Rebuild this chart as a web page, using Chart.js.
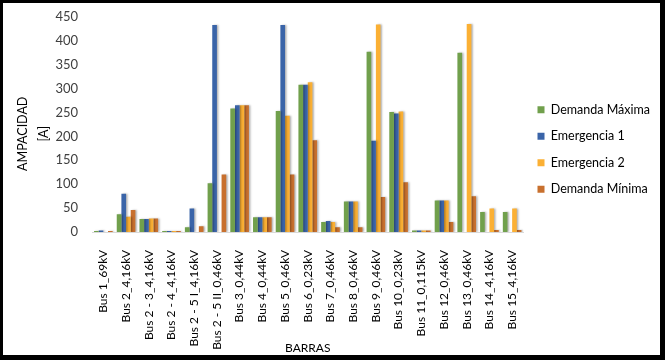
<!DOCTYPE html>
<html>
<head>
<script src="https://cdn.jsdelivr.net/npm/chart.js"></script>
<style>
  body { margin: 0; background: #fff; }
  #frame {
    position: absolute; left: 0; top: 0;
    width: 665px; height: 360px; box-sizing: border-box;
    border-style: solid; border-color: #000; border-width: 3px 5px 5px 3px;
    background: #fff;
  }
  canvas { display: block; }
</style>
<title>Ampacidad por barra</title>
</head>
<body>
<div id="frame"><canvas id="myChart" width="657" height="352"></canvas></div>

<script>
const barras = [
  'Bus 1_69kV', 'Bus 2_4,16kV', 'Bus 2 - 3_4,16kV', 'Bus 2 - 4_4,16kV',
  'Bus 2 - 5 I_4,16kV', 'Bus 2 - 5 II_0,46kV', 'Bus 3_0,44kV', 'Bus 4_0,44kV',
  'Bus 5_0,46kV', 'Bus 6_0,23kV', 'Bus 7_0,46kV', 'Bus 8_0,46kV',
  'Bus 9_0,46kV', 'Bus 10_0,23kV', 'Bus 11_0,115kV', 'Bus 12_0,46kV',
  'Bus 13_0,46kV', 'Bus 14_4,16kV', 'Bus 15_4,16kV'
];

const demandaMaxima = [2, 37, 27, 2, 10, 102, 258, 31, 253, 308, 21, 64, 377, 251, 3, 66, 375, 42, 42];
const emergencia1   = [3, 80, 27, 2, 49, 433, 265, 31, 433, 308, 23, 64, 191, 248, 3, 66, 0, 0, 0];
const emergencia2   = [0, 32, 28, 2, 0, 0, 265, 31, 243, 313, 21, 64, 434, 252, 3, 66, 435, 49, 49];
const demandaMinima = [2, 46, 28, 2, 12, 120, 265, 31, 120, 192, 10, 10, 73, 104, 3, 21, 75, 4, 4];

const yTicks = [0, 50, 100, 150, 200, 250, 300, 350, 400, 450];

Chart.defaults.font.family = 'Lato, "Open Sans", sans-serif';

// soft shadow behind the bars, like the original
const barShadow = {
  id: 'barShadow',
  beforeDatasetsDraw(chart) {
    const ctx = chart.ctx;
    ctx.save();
    ctx.shadowColor = 'rgba(0,0,0,0.3)';
    ctx.shadowBlur = 2;
    ctx.shadowOffsetX = 1.5;
    ctx.shadowOffsetY = 0;
  },
  afterDatasetsDraw(chart) {
    chart.ctx.restore();
  }
};

const ctx = document.getElementById('myChart');
const chart = new Chart(ctx, {
  type: 'bar',
  data: {
    labels: barras,
    datasets: [
      { label: 'Demanda Máxima', data: demandaMaxima, backgroundColor: '#71a04c' },
      { label: 'Emergencia 1', data: emergencia1, backgroundColor: '#3a64a8' },
      { label: 'Emergencia 2', data: emergencia2, backgroundColor: '#fbb034' },
      { label: 'Demanda Mínima', data: demandaMinima, backgroundColor: '#c8702e' }
    ]
  },
  options: {
    responsive: false,
    animation: false,
    layout: { padding: { left: 5, right: 0, top: 5, bottom: 0 } },
    datasets: {
      bar: { categoryPercentage: 0.82, barPercentage: 1, borderWidth: 0 }
    },
    scales: {
      y: {
        min: 0,
        max: 450,
        afterBuildTicks: scale => { scale.ticks = yTicks.map(v => ({ value: v })); },
        ticks: { color: '#404040', font: { size: 13 }, padding: 6 },
        grid: { display: false },
        border: { display: false },
        title: {
          display: true,
          // em spaces push the title a little below the middle, as in the original
          text: ['AMPACIDAD\u2003\u2003', '[A]\u2003\u2003'],
          color: '#000',
          font: { size: 12.5, lineHeight: 1.7 },
          padding: { top: 4, bottom: 0 }
        },
        afterFit: scale => { scale.width = 84; }
      },
      x: {
        ticks: { minRotation: 90, maxRotation: 90, autoSkip: false, color: '#000', font: { size: 12 }, padding: 10 },
        grid: { display: false },
        border: { color: '#d9d9d9' },
        title: {
          display: true,
          text: 'BARRAS',
          color: '#000',
          font: { size: 12 },
          padding: { top: 0, bottom: 0 }
        },
        afterFit: scale => { scale.height = 123; }
      }
    },
    plugins: {
      legend: {
        position: 'right',
        align: 'start',
        title: { display: true, text: '', padding: { top: 67, bottom: 0 } },
        labels: { boxWidth: 7, boxHeight: 7, padding: 14, color: '#000', font: { size: 12.5 } }
      },
      tooltip: { enabled: false }
    }
  },
  plugins: [barShadow]
});
</script>
</body>
</html>
